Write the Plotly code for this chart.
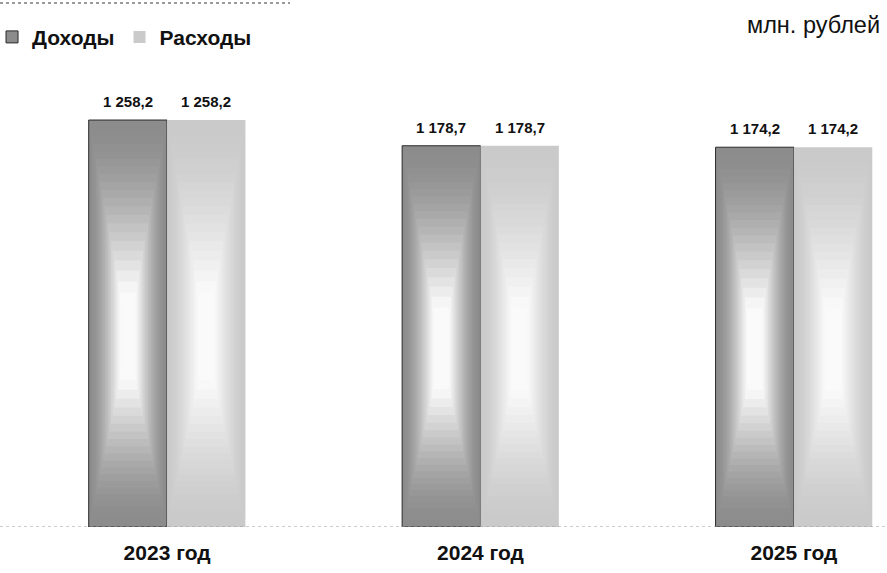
import plotly.graph_objects as go

categories = ["2023 год", "2024 год", "2025 год"]
dohody = [1258.2, 1178.7, 1174.2]
rashody = [1258.2, 1178.7, 1174.2]
series_names = ["Доходы", "Расходы"]
unit_label = "млн. рублей"


def fmt(v):
    s = f"{v:,.1f}"
    return s.replace(",", " ").replace(".", ",")


def lerp(c1, c2, t):
    return "rgb(%d,%d,%d)" % tuple(round(a + (b - a) * t) for a, b in zip(c1, c2))


FONT = "Arial, Liberation Sans, sans-serif"
BW = 0.25  # bar width in category units
N_LAYERS = 22
GLOW_C = 0.46  # glow centre as share of bar height

styles = [
    dict(name=series_names[0], values=dohody, edge=(140, 140, 140), center=(250, 250, 250),
         line="#2a2a2a", lw=1, offset=-BW),
    dict(name=series_names[1], values=rashody, edge=(202, 202, 202), center=(250, 250, 250),
         line="#cacaca", lw=0, offset=0.0),
]

fig = go.Figure()
annotations = []
for s in styles:
    vals = s["values"]
    fig.add_trace(go.Bar(
        name=s["name"], x=categories, y=vals, width=BW, offset=s["offset"],
        marker=dict(color=lerp(s["edge"], s["edge"], 0), line=dict(color=s["line"], width=s["lw"])),
        legendgroup=s["name"], hoverinfo="skip",
    ))
    # radial-like glow built from nested shading layers
    for k in range(1, N_LAYERS + 1):
        t = k / (N_LAYERS + 1)
        wf = (1 - t) ** 0.8
        hf = (1 - t) ** 0.75
        w = BW * wf
        off = s["offset"] + (BW - w) / 2
        top = [v * (GLOW_C + (1 - GLOW_C) * 0.99 * hf) for v in vals]
        bot = [v * (GLOW_C - GLOW_C * 0.99 * hf) for v in vals]
        frac = min(1.0, t / 0.85) ** 1.7
        fig.add_trace(go.Bar(
            x=categories, y=[a - b for a, b in zip(top, bot)], base=bot, width=w, offset=off,
            marker=dict(color=lerp(s["edge"], s["center"], frac), line=dict(width=0)),
            showlegend=False, legendgroup=s["name"], hoverinfo="skip",
        ))
    for c, v in zip(categories, vals):
        annotations.append(dict(
            x=c, y=v, xref="x", yref="y", text=fmt(v), showarrow=False,
            xshift=(s["offset"] + BW / 2) * 313.5, yshift=8, yanchor="bottom",
            font=dict(family=FONT, size=15, color="#111111", weight="bold"),
        ))

annotations.append(dict(text=unit_label, xref="paper", yref="paper", x=745 / 887, y=1.0,
                        xanchor="left", yanchor="bottom", yshift=40,
                        showarrow=False,
                        font=dict(family=FONT, size=23.5, color="#111111")))

fig.update_layout(
    width=887, height=573,
    margin=dict(l=0, r=0, t=80, b=46, autoexpand=False),
    paper_bgcolor="white", plot_bgcolor="white",
    barmode="overlay",
    font=dict(family=FONT, color="#111111"),
    legend=dict(orientation="h", x=-0.009, y=0.935, yref="container", yanchor="middle",
                xanchor="left",
                font=dict(family=FONT, size=21, color="#111111", weight="bold"),
                itemwidth=30, bgcolor="rgba(0,0,0,0)"),
    xaxis=dict(range=[-0.533, 2.297], showgrid=False, zeroline=False, showline=False,
               tickfont=dict(family=FONT, size=21, color="#111111", weight="bold"),
               ticks="", ticklabelstandoff=11),
    yaxis=dict(range=[0, 1382], visible=False, showgrid=False, zeroline=False),
    annotations=annotations,
    shapes=[
        dict(type="line", xref="paper", yref="y", x0=0, x1=1, y0=0, y1=0,
             line=dict(color="#9a9a9a", width=1, dash="dot")),
        dict(type="line", xref="paper", yref="paper", x0=0, x1=0.327, y0=1.172, y1=1.172,
             line=dict(color="#9a9a9a", width=2, dash="dot")),
    ],
)

fig.write_html("out.html", config={"displayModeBar": False},
               post_script="document.body.style.margin='0';")
